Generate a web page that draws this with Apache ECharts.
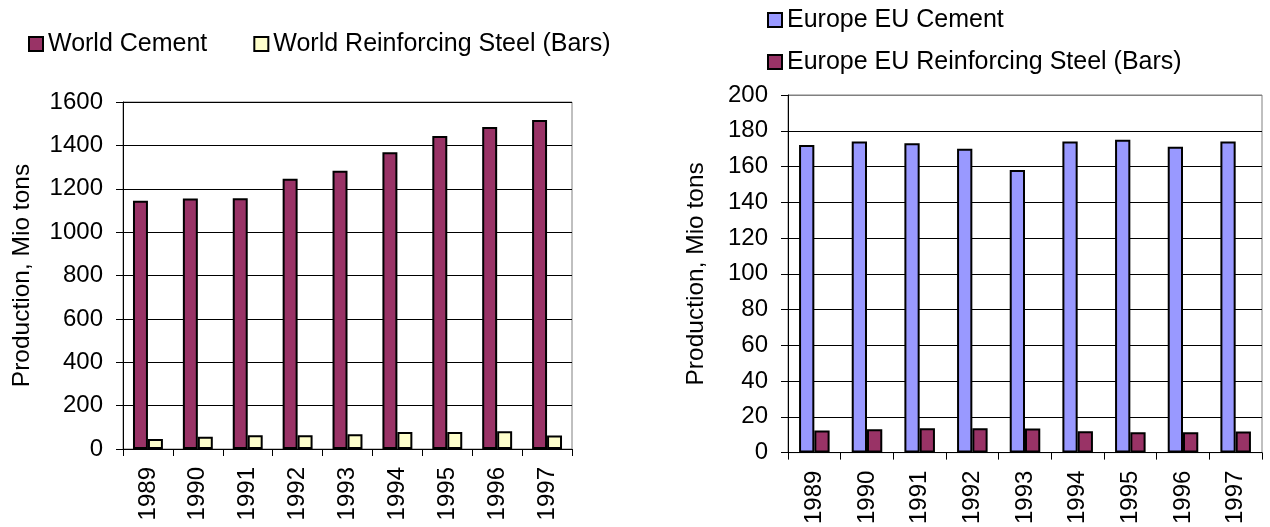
<!DOCTYPE html>
<html>
<head>
<meta charset="utf-8">
<script src="https://cdn.jsdelivr.net/npm/echarts@6/dist/echarts.min.js"></script>
<style>
  html, body { margin: 0; padding: 0; background: #fff; }
  #chart { width: 1270px; height: 527px; }
</style>
</head>
<body>
<div id="chart"></div>
<script>
// ---- Data ----
const years = ['1989', '1990', '1991', '1992', '1993', '1994', '1995', '1996', '1997'];
const worldCement = [1145, 1155, 1156, 1246, 1283, 1368, 1443, 1485, 1517];
const worldSteel = [46, 57, 63, 63, 68, 78, 78, 82, 62];
const euCement = [172, 174, 173, 170, 158, 174, 175, 171, 174];
const euSteel = [12.3, 13.1, 13.6, 13.6, 13.5, 12.0, 11.4, 11.4, 11.8];
const leftTicks = { min: 0, max: 1600, interval: 200 };
const rightTicks = { min: 0, max: 200, interval: 20 };
const axisTitle = 'Production, Mio tons';
const names = {
  wc: 'World Cement',
  ws: 'World Reinforcing Steel (Bars)',
  ec: 'Europe EU Cement',
  es: 'Europe EU Reinforcing Steel (Bars)'
};

// ---- Styles ----
const FONT = "'Liberation Sans', Arial, sans-serif";
const MAROON = '#993366', YELLOW = '#FFFFCC', BLUE = '#9999FF';
const border = { borderColor: '#000', borderWidth: 2 };

function xAxisCfg(gridIndex) {
  return {
    type: 'category', gridIndex, data: years,
    axisLine: { lineStyle: { color: '#000', width: 1 } },
    axisTick: { show: true, length: 7, lineStyle: { color: '#000' } },
    axisLabel: { rotate: 90, fontSize: 24, fontFamily: FONT, color: '#000', margin: 18 }
  };
}
function yAxisCfg(gridIndex, t, gap, splitColors) {
  return {
    type: 'value', gridIndex, min: t.min, max: t.max, interval: t.interval,
    name: axisTitle, nameLocation: 'middle', nameRotate: 90, nameGap: gap,
    nameTextStyle: { fontSize: 24.5, fontFamily: FONT, color: '#000' },
    axisLine: { show: true, lineStyle: { color: '#000', width: 1 } },
    axisTick: { show: true, length: 7, lineStyle: { color: '#000' } },
    axisLabel: { fontSize: 24, fontFamily: FONT, color: '#000', margin: 20,
      formatter: function (v) { return String(v); } },
    splitLine: { show: true, lineStyle: { color: splitColors, width: 1 } }
  };
}

const chart = echarts.init(document.getElementById('chart'), null, { renderer: 'canvas' });
const option = {
  backgroundColor: '#fff',
  animation: false,
  grid: [
    { left: 123, top: 102, width: 449, height: 347, show: true, borderColor: '#808080', borderWidth: 1, backgroundColor: 'transparent' },
    { left: 788, top: 95, width: 474, height: 360, show: true, borderColor: '#808080', borderWidth: 1, backgroundColor: 'transparent' }
  ],
  legend: [
    {
      data: [names.wc, names.ws], left: 28, top: 31.5, padding: 0,
      orient: 'horizontal', itemWidth: 14, itemHeight: 14, itemGap: 46,
      icon: 'rect',
      textStyle: { fontSize: 25, fontFamily: FONT, color: '#000' },
      itemStyle: { borderColor: '#000', borderWidth: 2 }
    },
    {
      data: [names.ec, names.es], left: 767, top: 7.5, padding: 0,
      orient: 'vertical', itemWidth: 14, itemHeight: 14, itemGap: 17,
      icon: 'rect',
      textStyle: { fontSize: 25, fontFamily: FONT, color: '#000' },
      itemStyle: { borderColor: '#000', borderWidth: 2 }
    }
  ],
  xAxis: [xAxisCfg(0), xAxisCfg(1)],
  yAxis: [
    yAxisCfg(0, leftTicks, 88, ['#000']),
    yAxisCfg(1, rightTicks, 79, ['#000', '#000', '#000', '#000', '#000', '#000', '#000', '#000', '#000', '#000', '#808080'])
  ],
  series: [
    { name: names.wc, type: 'bar', xAxisIndex: 0, yAxisIndex: 0, data: worldCement,
      barGap: '0%', barCategoryGap: '40%', itemStyle: Object.assign({ color: MAROON }, border) },
    { name: names.ws, type: 'bar', xAxisIndex: 0, yAxisIndex: 0, data: worldSteel,
      barGap: '0%', barCategoryGap: '40%', itemStyle: Object.assign({ color: YELLOW }, border) },
    { name: names.ec, type: 'bar', xAxisIndex: 1, yAxisIndex: 1, data: euCement,
      barGap: '0%', barCategoryGap: '42%', itemStyle: Object.assign({ color: BLUE }, border) },
    { name: names.es, type: 'bar', xAxisIndex: 1, yAxisIndex: 1, data: euSteel,
      barGap: '0%', barCategoryGap: '42%', itemStyle: Object.assign({ color: MAROON }, border) }
  ]
};
chart.setOption(option);
</script>
</body>
</html>
